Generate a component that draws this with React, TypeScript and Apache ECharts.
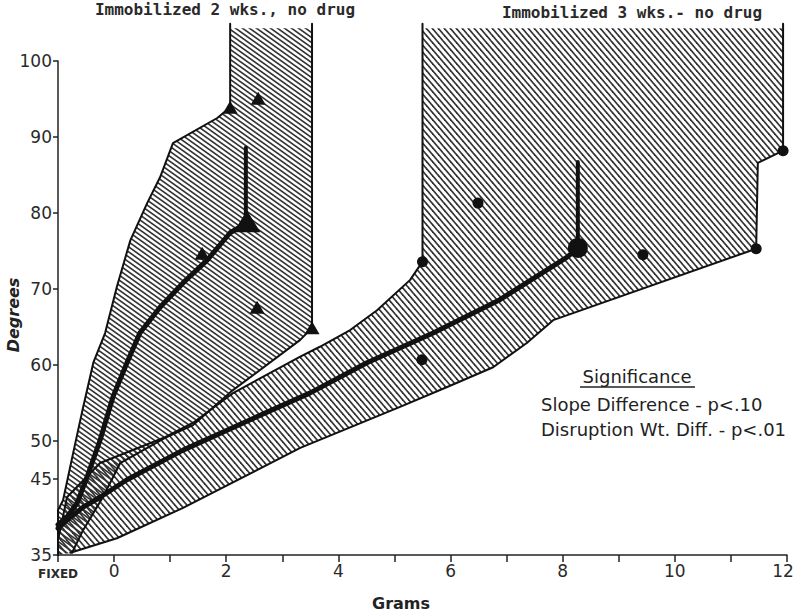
import React, { useEffect, useRef } from "react";
import * as echarts from "echarts";

// ---- axis ticks ----
const xTickValues = [-1, 0, 1, 2, 3, 4, 5, 6, 7, 8, 9, 10, 11, 12];
const yTickValues = [35, 45, 50, 60, 70, 80, 90, 100];

// ---- shaded ranges (grams, degrees) ----
const hatchTop = 104.3;
const aLeftEdge = [
  [2.07, 104.9], [2.07, 93.9], [1.84, 92.5], [1.05, 89.2], [0.82, 84.7], [0.59, 81.3],
  [0.29, 76.4], [0.05, 70.3], [-0.16, 64.2], [-0.37, 60.3], [-0.55, 54.5], [-0.73, 48.4],
  [-0.91, 42.2], [-1, 40.9], [-1, 35],
];
const aRightEdge = [
  [3.53, 104.9], [3.53, 64.9], [3.32, 63.3], [2.12, 56.7], [1.41, 52.1], [0.91, 50.4],
  [0.11, 47.1], [-0.2, 42.6], [-0.55, 38.3], [-0.75, 35.3],
];
const bLeftEdge = [
  [5.5, 104.9], [5.5, 73.6], [5.28, 71.2], [4.69, 67.2], [4.21, 64.6], [3.67, 62.4],
  [3.32, 61.1], [2.12, 56.3], [1.41, 52.4], [0.91, 50.5], [-0.25, 47.1], [-0.84, 42.6],
  [-0.96, 38.3], [-1, 37], [-1, 35],
];
const bRightEdge = [
  [11.93, 104.9], [11.93, 88.2], [11.48, 86.6], [11.45, 75.3], [7.83, 65.9], [7.36, 62.9],
  [6.76, 59.7], [5.94, 57.1], [5.1, 54.5], [4.21, 51.8], [3.32, 49.1], [1.23, 41.2],
  [0.05, 37.2], [-0.78, 35.3],
];

// ---- mean lines ----
const aMean = [
  [-1, 39], [-0.84, 40.0], [-0.66, 41.8], [-0.48, 45.3], [-0.25, 50.1], [-0.02, 55.8],
  [0.23, 60.3], [0.46, 64.2], [0.82, 67.6], [1.23, 70.8], [1.66, 73.8], [2.07, 77.4], [2.37, 78.7],
];
const aMeanRise = [[2.35, 78.7], [2.35, 88.6]];
const bMean = [
  [-1, 38.5], [-0.84, 39.6], [-0.55, 41.3], [-0.25, 42.6], [0.23, 44.9], [1.23, 48.8],
  [2.43, 52.8], [3.49, 56.3], [4.51, 60.3], [5.69, 64.2], [6.88, 68.6], [8.08, 74.2], [8.27, 75.4],
];
const bMeanRise = [[8.27, 75.4], [8.27, 86.7]];

// ---- observations ----
const aPoints = [[2.07, 93.9], [2.57, 95.1], [1.57, 74.7], [2.55, 67.6], [3.53, 64.9]];
const aMeanPoint = [[2.37, 78.9]];
const bPoints = [[5.5, 73.6], [6.49, 81.3], [9.43, 74.5], [11.45, 75.3], [11.93, 88.2], [5.49, 60.7]];
const bMeanPoint = [[8.27, 75.4]];

function makeHatch(px: number, py: number, color: string, lw: number) {
  const c = document.createElement("canvas");
  c.width = px;
  c.height = py;
  const ctx = c.getContext("2d")!;
  ctx.strokeStyle = color;
  ctx.lineWidth = lw;
  for (let k = -1; k <= 1; k++) {
    ctx.beginPath();
    ctx.moveTo(k * px - px * 0.2, -py * 0.2);
    ctx.lineTo(k * px + px * 1.2, py * 1.2);
    ctx.stroke();
  }
  return { image: c.toDataURL(), repeat: "repeat", imageWidth: px, imageHeight: py };
}

const capTop = (pts: number[][]) => pts.map((p) => [p[0], Math.min(p[1], hatchTop)]);

export default function App() {
  const ref = useRef<HTMLDivElement>(null);
  useEffect(() => {
    if (!ref.current) return;
    const chart = echarts.init(ref.current, undefined, { renderer: "svg" });
    const hatchA = makeHatch(7, 5, "#333", 1.6);
    const hatchB = makeHatch(6, 7, "#333", 1.7);
    const polyA = capTop([...aLeftEdge, ...aRightEdge.slice().reverse()]);
    const polyB = capTop([...bLeftEdge, ...bRightEdge.slice().reverse()]);

    const polySeries = (pts: number[][], fill: any, z: number) => ({
      type: "custom",
      coordinateSystem: "cartesian2d",
      silent: true,
      clip: false,
      z,
      data: [pts[0]],
      renderItem: (_p: any, api: any) => ({
        type: "polygon",
        shape: { points: pts.map((p) => api.coord(p)) },
        style: { fill, stroke: "none" },
      }),
    });
    const lineSeries = (data: number[][], width: number, z: number) => ({
      type: "line",
      data,
      symbol: "none",
      showSymbol: false,
      clip: false,
      silent: true,
      z,
      lineStyle: { color: "#111", width, cap: "round", join: "round" },
    });
    const scatter = (data: number[][], symbol: string, size: any, z: number) => ({
      type: "scatter",
      data,
      symbol,
      symbolSize: size,
      clip: false,
      silent: true,
      z,
      itemStyle: { color: "#111", opacity: 1 },
    });

    const font = "DejaVu Sans";
    chart.setOption({
      animation: false,
      backgroundColor: "#ffffff",
      grid: { left: 58, right: 9, top: 61, bottom: 58, containLabel: false, outerBoundsMode: "none" },
      xAxis: {
        type: "value",
        min: -1,
        max: 12,
        interval: 1,
        splitLine: { show: false },
        axisLine: { onZero: false, lineStyle: { color: "#222", width: 1.5 } },
        axisTick: { length: 7, lineStyle: { color: "#222", width: 1.5 } },
        axisLabel: {
          margin: 7,
          color: "#2a2a2a",
          fontFamily: font,
          fontSize: 17,
          showMinLabel: true,
          showMaxLabel: true,
          formatter: (v: number) =>
            v === -1 ? "{f|FIXED}" : v === 12 ? "{r|12}" : v % 2 === 0 ? String(v) : "",
          rich: {
            f: { fontSize: 12, fontWeight: "bold", fontFamily: font, color: "#2a2a2a", padding: [6, 0, 0, 0] },
            r: { fontSize: 17, fontFamily: font, color: "#2a2a2a", padding: [0, 8, 0, 0] },
          },
        },
      },
      yAxis: {
        type: "value",
        min: 35,
        max: 100,
        interval: 5,
        splitLine: { show: false },
        axisLine: { onZero: false, lineStyle: { color: "#222", width: 1.5 } },
        axisTick: { length: 5, customValues: yTickValues, lineStyle: { color: "#222", width: 1.5 } },
        axisLabel: {
          margin: 6,
          color: "#2a2a2a",
          fontFamily: font,
          fontSize: 17,
          customValues: yTickValues,
        },
      },
      graphic: [
        { type: "text", x: 225, y: 9, style: { text: "Immobilized 2 wks., no drug", font: "bold 16px 'DejaVu Sans Mono'", fill: "#2a2a2a", align: "center", verticalAlign: "middle" } },
        { type: "text", x: 632, y: 12, style: { text: "Immobilized 3 wks.- no drug", font: "bold 16px 'DejaVu Sans Mono'", fill: "#2a2a2a", align: "center", verticalAlign: "middle" } },
        { type: "text", x: 13, y: 315, rotation: Math.PI / 2, style: { text: "Degrees", font: "italic bold 16px 'DejaVu Sans'", fill: "#222", align: "center", verticalAlign: "middle" } },
        { type: "text", x: 401, y: 603, style: { text: "Grams", font: "bold 16px 'DejaVu Sans'", fill: "#222", align: "center", verticalAlign: "middle" } },
        { type: "text", x: 637, y: 376, style: { text: "Significance", font: "18px 'DejaVu Sans'", fill: "#222", align: "center", verticalAlign: "middle" } },
        { type: "line", shape: { x1: 580, y1: 387, x2: 695, y2: 387 }, style: { stroke: "#222", lineWidth: 1.5 } },
        { type: "text", x: 541, y: 404, style: { text: "Slope Difference - p<.10", font: "18px 'DejaVu Sans'", fill: "#222", align: "left", verticalAlign: "middle" } },
        { type: "text", x: 541, y: 429, style: { text: "Disruption Wt. Diff. - p<.01", font: "18px 'DejaVu Sans'", fill: "#222", align: "left", verticalAlign: "middle" } },
      ],
      series: [
        polySeries(polyB, hatchB, 1),
        polySeries(polyA, hatchA, 2),
        lineSeries(aLeftEdge, 2, 3),
        lineSeries(aRightEdge, 2, 3),
        lineSeries(bLeftEdge, 2, 3),
        lineSeries(bRightEdge, 2, 3),
        lineSeries(aMean, 5, 4),
        lineSeries(aMeanRise, 4, 4),
        lineSeries(bMean, 5, 4),
        lineSeries(bMeanRise, 4, 4),
        scatter(aPoints, "triangle", [15, 13], 5),
        scatter(aMeanPoint, "triangle", [27, 22], 5),
        scatter(bPoints, "circle", 11, 5),
        scatter(bMeanPoint, "circle", 20, 5),
      ],
    });
    return () => chart.dispose();
  }, []);
  return (
    <div
      ref={ref}
      style={{ position: "fixed", left: 0, top: 0, width: 796, height: 613, background: "#fff" }}
    />
  );
}
